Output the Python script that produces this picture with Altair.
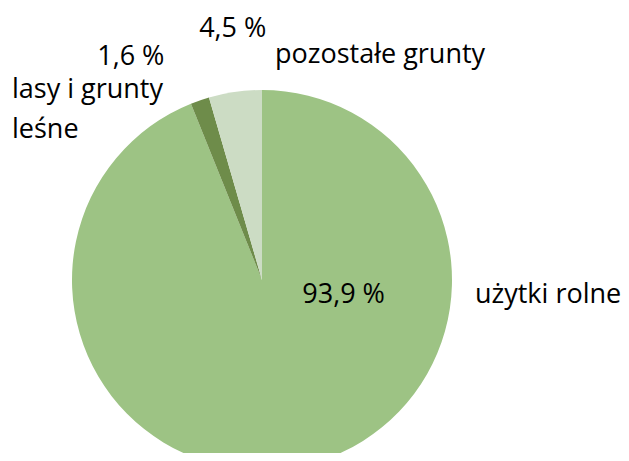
import altair as alt
import pandas as pd
import numpy as np

categories = ["użytki rolne", "lasy i grunty\nleśne", "pozostałe grunty"]
values = [93.9, 1.6, 4.5]
pct_labels = ["93,9 %", "1,6 %", "4,5 %"]
colors = ["#9DC384", "#6E8C4A", "#CCDCC4"]

vals = np.array(values)
cum = np.cumsum(vals)
mid = (cum - vals / 2) / vals.sum() * 2 * np.pi

df = pd.DataFrame({
    "cat": categories,
    "value": values,
    "pct": pct_labels,
    "order": list(range(len(values))),
    "mid": mid,
})

W, H = 613, 445
CX, CY = 254, 272
FONT = "Open Sans, Lato, sans-serif"
FS = 27

base = alt.Chart(df)

pie = base.mark_arc(outerRadius=190).encode(
    theta=alt.Theta("value:Q", stack=True),
    order=alt.Order("order:Q"),
    color=alt.Color("cat:N", scale=alt.Scale(domain=categories, range=colors), legend=None),
    x=alt.value(CX), y=alt.value(CY),
)

def label(i, field, radius, dx, dy, align="center"):
    return base.transform_filter(alt.datum.order == i).mark_text(
        radius=radius, dx=dx, dy=dy, align=align, baseline="alphabetic",
        font=FONT, fontSize=FS, color="#000000", lineBreak="\n", lineHeight=40,
    ).encode(
        theta=alt.Theta("mid:Q", scale=None),
        text=alt.Text(f"{field}:N"),
        x=alt.value(CX), y=alt.value(CY),
    )

layers = [
    pie,
    label(0, "pct", 40, 74, -16),
    label(1, "pct", 230, -56, 2),
    label(2, "pct", 250, 6, 5),
    label(0, "cat", 0, 213, 23, "left"),
    label(1, "cat", 0, -250, -182, "left"),
    label(2, "cat", 0, 13, -217, "left"),
]

chart = alt.layer(*layers).properties(
    width=W, height=H,
    autosize=alt.AutoSizeParams(type="none"),
    padding=0,
).configure_view(stroke=None)

chart.save("out.html", embed_options={"renderer": "svg", "actions": False})
